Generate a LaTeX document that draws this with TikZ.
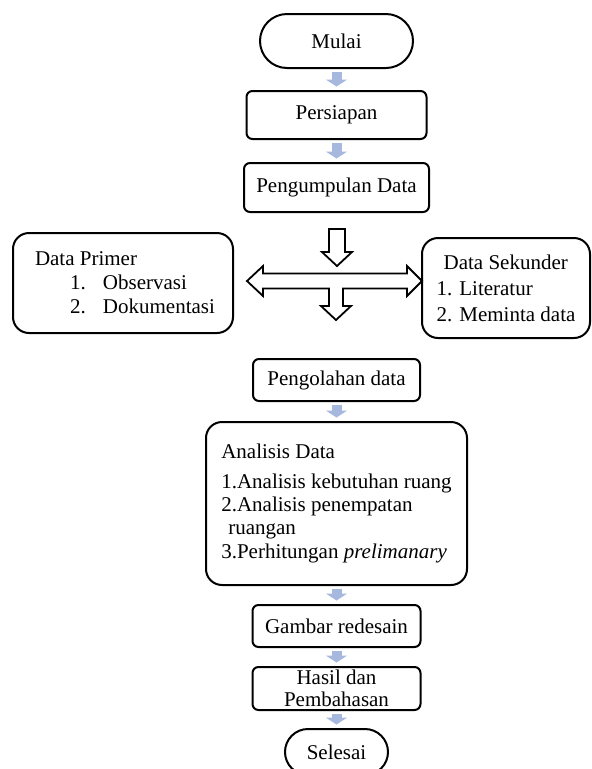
\documentclass[tikz,border=0pt]{standalone}
\usepackage{fontspec}
\setmainfont{Liberation Serif}
\usetikzlibrary{arrows.meta}
\definecolor{flowblue}{RGB}{166,184,222}
\newlength{\pix}
\setlength{\pix}{0.75pt}
\newcommand{\boxfont}{\fontsize{15.75pt}{18pt}\selectfont}

\begin{document}
\begin{tikzpicture}[x=\pix, y=-\pix,
    stepbox/.style={draw, line width=2\pix, rounded corners=6\pix, inner sep=0pt, font=\boxfont},
    listbox/.style={draw, line width=2\pix, rounded corners=16\pix, inner sep=0pt, align=left, font=\boxfont},
    flow/.style={draw=flowblue, line width=7.5pt, -{Triangle[width=15.75pt,length=5.25pt]}, shorten <=1.9pt, shorten >=2.6pt},
    hollow/.style={draw, fill=white, line width=1.8\pix}]

    \path[use as bounding box, clip] (0,0) rectangle (592,769);

    \node[stepbox, rounded corners=27\pix, minimum width=153\pix, minimum height=54\pix] (mulai) at (336.5,41) {Mulai};
    \node[stepbox, minimum width=180\pix, minimum height=48\pix] (persiapan) at (336.5,115) {Persiapan};
    \node[stepbox, minimum width=185\pix, minimum height=49\pix] (kumpul) at (336.5,187.5) {Pengumpulan Data};

    \node[listbox, minimum width=220\pix, minimum height=100\pix] (primer) at (123,283)
        {\hspace*{4\pix}Data Primer\\\hspace*{39\pix}\makebox[33\pix][l]{1.}Observasi\\\hspace*{39\pix}\makebox[33\pix][l]{2.}Dokumentasi};
    \node[listbox, minimum width=168\pix, minimum height=100\pix, font=\fontsize{15.75pt}{19.5pt}\selectfont] (sekunder) at (506,288)
        {\hspace*{7\pix}Data Sekunder\\1. Literatur\\2. Meminta data};

    \node[stepbox, minimum width=167\pix, minimum height=42\pix] (olah) at (336.5,380) {Pengolahan data};
    \node[listbox, minimum width=261\pix, minimum height=163\pix, font=\fontsize{15.75pt}{17.5pt}\selectfont] (analisis) at (336.5,503.5)
        {Analisis Data\\[6\pix]1.Analisis kebutuhan ruang\\2.Analisis penempatan\\\hspace*{7\pix}ruangan\\3.Perhitungan \textit{prelimanary}};
    \node[stepbox, minimum width=168\pix, minimum height=42\pix] (gambar) at (336.5,626) {Gambar redesain};
    \node[stepbox, minimum width=168\pix, minimum height=43\pix, align=center, font=\fontsize{15.75pt}{16.5pt}\selectfont] (hasil) at (336.5,688.5) {Hasil dan\\Pembahasan};
    \node[stepbox, rounded corners=23\pix, minimum width=103\pix, minimum height=46\pix] (selesai) at (336.5,752) {Selesai};

    \draw[flow] (mulai) -- (persiapan);
    \draw[flow] (persiapan) -- (kumpul);
    \draw[flow] (olah) -- (analisis);
    \draw[flow] (analisis) -- (gambar);
    \draw[flow] (gambar) -- (hasil);
    \draw[flow] (hasil) -- (selesai);

    % hollow arrows between the data boxes
    \draw[hollow] (329,229) -- (345,229) -- (345,252) -- (352,252) -- (337,266) -- (322,252) -- (329,252) -- cycle;
    \draw[hollow] (247,281) -- (263,266) -- (263,273.5) -- (407,273.5) -- (407,266) -- (422,281) -- (407,296) -- (407,288.5)
        -- (343,288.5) -- (343,306) -- (351,306) -- (336,320) -- (321,306) -- (329,306) -- (329,288.5)
        -- (263,288.5) -- (263,296) -- cycle;

\end{tikzpicture}
\end{document}
